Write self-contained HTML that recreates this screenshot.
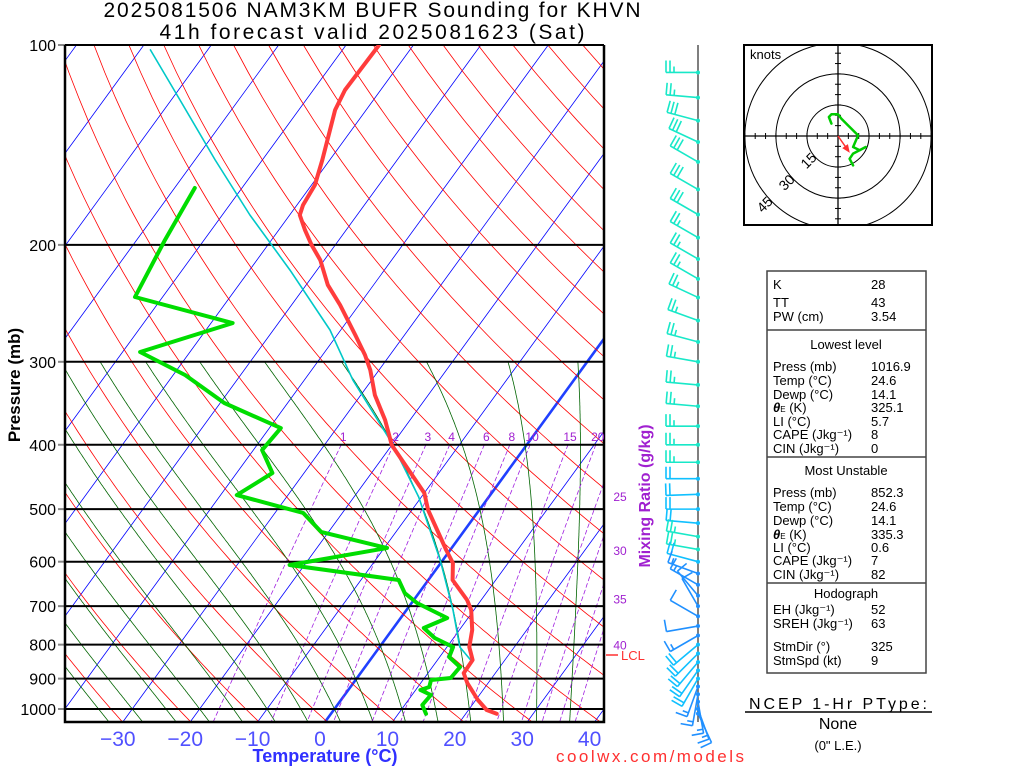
<!DOCTYPE html>
<html><head><meta charset="utf-8"><style>
html,body{margin:0;padding:0;background:#fff;}
svg{display:block;font-family:"Liberation Sans",sans-serif;}
</style></head><body>
<svg id="c" width="1024" height="768" viewBox="0 0 1024 768" xmlns="http://www.w3.org/2000/svg">
<defs><clipPath id="plotclip"><rect x="65" y="45" width="539" height="677"/></clipPath>
<clipPath id="hodoclip"><rect x="744" y="45" width="188" height="180"/></clipPath></defs>
<g id="bg" clip-path="url(#plotclip)"></g>
<g id="plines"></g>
<g id="traces" clip-path="url(#plotclip)"></g>
<g id="barbs"></g>
<g id="hodo"></g>
<g id="labels">
<text x="372" y="17" font-size="21" text-anchor="middle" textLength="537">2025081506 NAM3KM BUFR Sounding for KHVN</text>
<text x="372" y="39" font-size="21" text-anchor="middle" textLength="425">41h forecast valid 2025081623 (Sat)</text>
<text transform="translate(20,385) rotate(-90)" font-size="17" font-weight="bold" text-anchor="middle">Pressure (mb)</text>
<text x="325" y="762" font-size="18" font-weight="bold" fill="#3030ff" text-anchor="middle">Temperature (°C)</text>
<text x="650" y="762" font-size="17" fill="#ff3030" text-anchor="middle" textLength="188">coolwx.com/models</text>
<text transform="translate(650,496) rotate(-90)" font-size="16" font-weight="bold" fill="#a020d0" text-anchor="middle">Mixing Ratio (g/kg)</text>
<text x="621" y="660" font-size="13" fill="#ff3030">LCL</text>
<line x1="606" y1="655" x2="618" y2="655" stroke="#ff3030" stroke-width="1.5"/>
</g>
<g id="table" font-size="13">
<rect x="767" y="271" width="159" height="402" fill="none" stroke="#444" stroke-width="1.5"/>
<line x1="767" y1="330" x2="926" y2="330" stroke="#444" stroke-width="1.5"/>
<line x1="767" y1="457" x2="926" y2="457" stroke="#444" stroke-width="1.5"/>
<line x1="767" y1="583" x2="926" y2="583" stroke="#444" stroke-width="1.5"/>
<g>
<text x="773" y="289">K</text><text x="871" y="289">28</text>
<text x="773" y="307">TT</text><text x="871" y="307">43</text>
<text x="773" y="321">PW (cm)</text><text x="871" y="321">3.54</text>
</g>
<text x="846" y="349" text-anchor="middle">Lowest level</text>
<g>
<text x="773" y="371">Press (mb)</text><text x="871" y="371">1016.9</text>
<text x="773" y="385">Temp (°C)</text><text x="871" y="385">24.6</text>
<text x="773" y="399">Dewp (°C)</text><text x="871" y="399">14.1</text>
<text x="773" y="412"><tspan font-weight="bold" font-style="italic">θ</tspan><tspan font-size="8">E</tspan> (K)</text><text x="871" y="412">325.1</text>
<text x="773" y="426">LI (°C)</text><text x="871" y="426">5.7</text>
<text x="773" y="439">CAPE (Jkg⁻¹)</text><text x="871" y="439">8</text>
<text x="773" y="453">CIN (Jkg⁻¹)</text><text x="871" y="453">0</text>
</g>
<text x="846" y="475" text-anchor="middle">Most Unstable</text>
<g>
<text x="773" y="497">Press (mb)</text><text x="871" y="497">852.3</text>
<text x="773" y="511">Temp (°C)</text><text x="871" y="511">24.6</text>
<text x="773" y="525">Dewp (°C)</text><text x="871" y="525">14.1</text>
<text x="773" y="539"><tspan font-weight="bold" font-style="italic">θ</tspan><tspan font-size="8">E</tspan> (K)</text><text x="871" y="539">335.3</text>
<text x="773" y="552">LI (°C)</text><text x="871" y="552">0.6</text>
<text x="773" y="565">CAPE (Jkg⁻¹)</text><text x="871" y="565">7</text>
<text x="773" y="579">CIN (Jkg⁻¹)</text><text x="871" y="579">82</text>
</g>
<text x="846" y="598" text-anchor="middle">Hodograph</text>
<g>
<text x="773" y="614">EH (Jkg⁻¹)</text><text x="871" y="614">52</text>
<text x="773" y="628">SREH (Jkg⁻¹)</text><text x="871" y="628">63</text>
<text x="773" y="651">StmDir (°)</text><text x="871" y="651">325</text>
<text x="773" y="665">StmSpd (kt)</text><text x="871" y="665">9</text>
</g>
<text x="838" y="709" font-size="16" text-anchor="middle" textLength="178">NCEP 1-Hr PType:</text>
<line x1="745" y1="712" x2="932" y2="712" stroke="#000" stroke-width="1.5"/>
<text x="838" y="729" font-size="16" text-anchor="middle">None</text>
<text x="838" y="750" font-size="13" text-anchor="middle">(0" L.E.)</text>
</g>
</svg>
<script>
// ---- sounding data ----
const tempP=[100,109.1,116.9,125.3,134.3,149,162.5,174.2,180.3,190,200.1,210.8,229.8,246.4,273.4,293,308.7,336.7,367.1,400.4,472.8,501.6,576.2,602.8,639.4,685.2,709.4,760.3,806.5,843.7,883,913.9,969.2,1003.5,1016.9];
const tempT=[-65.1,-65.2,-65.3,-64.6,-63.2,-61.1,-59.5,-59.1,-58.5,-56.1,-53.5,-50.6,-46.8,-42.8,-37.3,-33.7,-31.3,-27.9,-23.7,-20.0,-10.0,-7.6,-0.6,1.8,3.6,7.9,9.6,11.9,13.3,15.2,15.3,16.9,20.3,22.7,24.6];
const dewP=[164.2,196.7,239.6,262.3,290,314.1,346.1,377.5,407.4,441.1,476.2,506.8,541.2,572.2,607,639.4,668.9,692.5,729.4,755.1,781.8,806.5,835,864.7,898.2,904.4,926.6,936.3,952.6,986.3,1016.9];
const dewT=[-77,-75.8,-74.1,-56.8,-67.4,-58.2,-49.4,-38.3,-38.7,-34.7,-37.6,-25.8,-21.1,-9.6,-22.2,-4.4,-2.1,0.8,6.9,4.5,7.2,10.9,11.4,14.1,13.9,11.2,11.7,10.7,12.8,12.6,14.1];
const parcelP=[101.7,121,149,180.3,218.3,268.7,319.6,397.6,479.4,596.6,709.4,806.5,850];
const parcelT=[-98.5,-88.7,-77,-65.9,-54,-41.6,-32.8,-20.2,-10.4,-0.4,6.9,11.9,15.4];
// ---- winds ----
const barbP=[110,120,130,140,150,165,180,195,210,225,240,260,280,300,325,350,375,400,425,450,475,500,525,550,575,600,625,650,675,700,725,750,775,800,825,850,875,900,925,950,975,1000,1016];
const barbDir=[270,275,285,295,300,300,300,300,300,300,295,290,285,280,275,275,270,270,270,270,268,270,275,280,280,285,290,300,320,330,300,260,240,230,225,220,215,210,200,190,170,160,155];
const barbSpd=[25,25,30,30,30,30,30,25,25,25,25,25,25,25,25,25,25,25,25,20,20,20,20,25,25,20,15,15,10,10,10,10,15,20,20,20,20,20,15,15,15,15,10];
const hodoU=[7.3,5.6,7.3,13.4,10.5,7.3,9.7,4.8,1.6,0,-3.2,-4.4,-3.2];
const hodoV=[-14.2,-11,-8.5,-5.3,-6.9,-5.3,0.3,5.2,8.4,10.5,10.5,9.2,6.0];
const stormDir=325, stormSpd=9;
// ---- axis labels ----
const pTicks=[100,200,300,400,500,600,700,800,900,1000];
const tTicks=[-30,-20,-10,0,10,20,30,40];
const mixRatios=[1,2,3,4,6,8,10,15,20,25,30,35,40];
const mixTopLabels=["1","2","3","4","6","8","10","15","20"];
const mixSideLabels=["25","30","35","40"];

const NS="http://www.w3.org/2000/svg";
function yP(p){return 45+664*Math.log10(p/100);}
function xT(T,p){return 325+6.74*T+0.728*(722-yP(p));}
function mk(tag,attrs,parent){const e=document.createElementNS(NS,tag);for(const k in attrs)e.setAttribute(k,attrs[k]);parent.appendChild(e);return e;}
function poly(pts,parent,stroke,w,extra){const d=pts.map((q,i)=>(i?'L':'M')+q[0].toFixed(1)+','+q[1].toFixed(1)).join('');const e=mk('path',Object.assign({d:d,fill:'none',stroke:stroke,'stroke-width':w,'stroke-linejoin':'round','stroke-linecap':'round'},extra||{}),parent);return e;}
const bg=document.getElementById('bg');
for(let T=-170;T<=40;T+=10){const e=poly([[xT(T,1060),yP(1060)],[xT(T,90),yP(90)]],bg,T===0?'#2040ff':'#0000ff',T===0?2.6:0.8);

}
for(let th=200;th<=520;th+=10){const pts=[];for(let p=90;p<=1060;p+=10){pts.push([xT(th*Math.pow(p/1000,0.2857)-273.15,p),yP(p)]);}
const e=poly(pts,bg,'#ff0000',0.8);

}
function es(T){return 6.112*Math.exp(17.67*T/(T+243.5));}
function lapse(T,p){const Tk=T+273.15,e=es(T),rs=0.622*e/(p-e);return (287*Tk+2.5e6*rs)/(1004+2.5e6*2.5e6*rs*0.622/(287*Tk*Tk));}
for(let T0=-35;T0<=40;T0+=5){const up=[];let T=T0,p=1000;up.push([p,T]);while(p>300){const dp=-2;T+=lapse(T,p)*(dp/p);p+=dp;up.push([p,T]);}
T=T0;p=1000;const dn=[];while(p<1060){const dp=2;T+=lapse(T,p)*(dp/p);p+=dp;dn.push([p,T]);}
const all=dn.reverse().concat(up).map(q=>[xT(q[1],q[0]),yP(q[0])]);
const e=poly(all,bg,'#006400',0.8);

}
function tdFromW(w,p){const e=w*p/(622+w);const l=Math.log(e/6.112);return 243.5*l/(17.67-l);}
mixRatios.forEach(w=>{const pts=[];for(let p=400;p<=1060;p+=10)pts.push([xT(tdFromW(w,p),p),yP(p)]);
const e=poly(pts,bg,'#a020e0',0.8,{'stroke-dasharray':'4,3'});

});
const lab=document.getElementById('labels');
mixTopLabels.forEach((s,i)=>{const w=mixRatios[i];let x=xT(tdFromW(w,400),400)+2;if(x>600)x=600;const t=mk('text',{x:x,y:441,'font-size':12,fill:'#a020d0','text-anchor':'middle'},lab);t.textContent=s;

});
mixSideLabels.forEach((s,i)=>{const w=mixRatios[9+i];
let pc=400;for(let p=400;p<=1060;p+=1){if(xT(tdFromW(w,p),p)<=599){pc=p;break;}}
const t=mk('text',{x:620,y:yP(pc)+5,'font-size':12,fill:'#a020d0','text-anchor':'middle'},lab);t.textContent=s;

});
const pl=document.getElementById('plines');
pTicks.forEach(p=>{const y=yP(p);mk('line',{x1:58,y1:y,x2:65,y2:y,stroke:'#888','stroke-width':2},pl);
const l=mk('line',{x1:65,y1:y,x2:604,y2:y,stroke:'#000','stroke-width':2},pl);


const t=mk('text',{x:56,y:y+6,'font-size':16,'text-anchor':'end'},pl);t.textContent=p;

});
mk('path',{d:'M65,45 L65,722 L604,722 L604,45',fill:'none',stroke:'#000','stroke-width':2.5},pl);
tTicks.forEach(T=>{const x=325+6.74*T-5;const t=mk('text',{x:x,y:746,'font-size':21,fill:'#5050ff','text-anchor':'middle'},pl);t.textContent=(T<0?'\u2212'+(-T):T);

});
const tr=document.getElementById('traces');
let e=poly(parcelP.map((p,i)=>[xT(parcelT[i],p),yP(p)]),tr,'#00c8c8',1.6);


e=poly(dewP.map((p,i)=>[xT(dewT[i],p),yP(p)]),tr,'#00dd00',4);


e=poly(tempP.map((p,i)=>[xT(tempT[i],p),yP(p)]),tr,'#ff3c3c',4);


const bb=document.getElementById('barbs');
mk('line',{x1:698,y1:45,x2:698,y2:722,stroke:'#555','stroke-width':1.5},bb);
barbP.forEach((p,i)=>{const y=yP(p),d=barbDir[i]*Math.PI/180,s=barbSpd[i];
const dx=Math.sin(d),dy=-Math.cos(d);const L=32;const tx=698+dx*L,ty=y+dy*L;
const col=s>=25?'#18e8c8':(s>=20?'#10c0ff':'#2090ff');
const g=mk('g',{stroke:col,'stroke-width':1.6,fill:'none'},bb);


mk('line',{x1:698,y1:y,x2:tx,y2:ty},g);
mk('circle',{cx:698,cy:y,r:2,fill:col,stroke:'none'},g);
let rem=s,pos=0;const px=-dy,py=dx;
while(rem>=10){const bx=tx-dx*pos,by=ty-dy*pos;mk('line',{x1:bx,y1:by,x2:bx+px*12,y2:by+py*12},g);rem-=10;pos+=4;}
if(rem>=5){if(pos===0)pos=4;const bx=tx-dx*pos,by=ty-dy*pos;mk('line',{x1:bx,y1:by,x2:bx+px*6,y2:by+py*6},g);}
});
const hg=document.getElementById('hodo');const cx=838,cy=136,k=2.07;
mk('rect',{x:744,y:45,width:188,height:180,fill:'none',stroke:'#000','stroke-width':2},hg);
const hc=mk('g',{'clip-path':'url(#hodoclip)'},hg);
[15,30,45].forEach(r=>mk('circle',{cx:cx,cy:cy,r:r*k,fill:'none',stroke:'#000','stroke-width':1},hc));
mk('line',{x1:744,y1:cy,x2:932,y2:cy,stroke:'#000','stroke-width':1.3},hc);
mk('line',{x1:cx,y1:45,x2:cx,y2:225,stroke:'#000','stroke-width':1.3},hc);
for(let v=-45;v<=45;v+=5){if(!v)continue;const o=v*k;mk('line',{x1:cx+o,y1:cy-3,x2:cx+o,y2:cy+3,stroke:'#000'},hc);mk('line',{x1:cx-3,y1:cy+o,x2:cx+3,y2:cy+o,stroke:'#000'},hc);}
[15,30,45].forEach(r=>{const t=mk('text',{transform:`translate(${cx-r*k*0.707-4},${cy+r*k*0.707+6}) rotate(-45)`,'font-size':14,'text-anchor':'middle'},hc);t.textContent=r;

});
const kt=mk('text',{x:750,y:59,'font-size':13},hg);kt.textContent='knots';


e=poly(hodoU.map((u,i)=>[cx+u*k,cy-hodoV[i]*k]),hc,'#00cc00',2.5);


const sd=stormDir*Math.PI/180;const su=-stormSpd*Math.sin(sd),sv=-stormSpd*Math.cos(sd);
const ax=cx+su*k,ay=cy-sv*k;
const ar=mk('g',{stroke:'#ff3030','stroke-width':1.5,fill:'#ff3030'},hc);


mk('line',{x1:cx,y1:cy,x2:ax,y2:ay},ar);
const ang=Math.atan2(ay-cy,ax-cx);
mk('path',{d:`M${ax},${ay} L${ax-6*Math.cos(ang-0.4)},${ay-6*Math.sin(ang-0.4)} L${ax-6*Math.cos(ang+0.4)},${ay-6*Math.sin(ang+0.4)} Z`},ar);
</script>
</body></html>
